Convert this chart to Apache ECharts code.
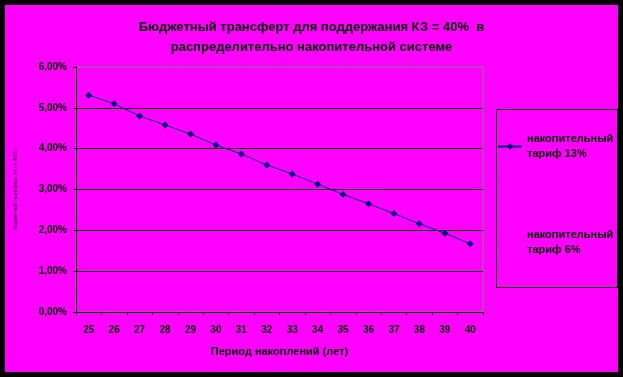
<!DOCTYPE html>
<html>
<head>
<meta charset="utf-8">
<script src="https://cdn.jsdelivr.net/npm/echarts@6/dist/echarts.min.js"></script>
<style>
  html, body { margin: 0; padding: 0; background: #000; }
  #chart { position: absolute; left: 5px; top: 5px; width: 613px; height: 367px; }
</style>
</head>
<body>
<div id="chart"></div>
<script>
// period of accumulation, years
const years = ["25", "26", "27", "28", "29", "30", "31", "32", "33", "34", "35", "36", "37", "38", "39", "40"];
// budget transfer, %
const tariff13 = [5.31, 5.1, 4.8, 4.58, 4.36, 4.09, 3.87, 3.6, 3.38, 3.13, 2.88, 2.65, 2.41, 2.16, 1.93, 1.67];
// second series has no visible points in the source chart
const tariff6 = [];

const seriesNames = ["накопительный тариф 13%", "накопительный тариф 6%"];

const font = '"Liberation Sans", Arial, sans-serif';

const myChart = echarts.init(document.getElementById("chart"), null, { renderer: "canvas" });

myChart.setOption({
  animation: false,
  backgroundColor: "#ff00ff",
  textStyle: { fontFamily: font },
  title: {
    text: "Бюджетный трансферт для поддержания КЗ = 40%  в\nраспределительно накопительной системе",
    left: "center",
    top: 12,
    padding: 0,
    textStyle: {
      fontFamily: font,
      fontSize: 13,
      fontWeight: "bold",
      color: "#000",
      lineHeight: 20,
    },
  },
  grid: {
    left: 68,
    top: 62,
    right: 135,
    bottom: 60,
    show: true,
    borderColor: "#808080",
    borderWidth: 1,
    backgroundColor: "transparent",
  },
  legend: {
    orient: "vertical",
    left: 491,
    top: 119,
    padding: [0, 0, 0, 1],
    itemWidth: 24,
    itemHeight: 8,
    itemGap: 51,
    formatter: (name) => name.replace(" тариф", "\nтариф"),
    textStyle: {
      fontFamily: font,
      fontSize: 11,
      fontWeight: "bold",
      color: "#000",
      lineHeight: 15,
      padding: [15, 0, 0, 0],
    },
    data: [
      { name: seriesNames[0] },
      { name: seriesNames[1], itemStyle: { opacity: 0 }, lineStyle: { opacity: 0 } },
    ],
  },
  graphic: [
    {
      type: "rect",
      left: 491,
      top: 104,
      shape: { width: 121, height: 178 },
      style: { fill: "transparent", stroke: "#000", lineWidth: 1 },
    },
  ],
  xAxis: {
    type: "category",
    data: years,
    boundaryGap: true,
    z: 3,
    name: "Период накоплений (лет)",
    nameLocation: "middle",
    nameGap: 34,
    nameTextStyle: { fontFamily: font, fontSize: 11, fontWeight: "bold", color: "#000" },
    axisLine: { lineStyle: { color: "#000", width: 1 } },
    axisTick: { show: true, length: 3, lineStyle: { color: "#000" } },
    axisLabel: { fontFamily: font, fontSize: 10, fontWeight: "bold", color: "#000", margin: 13 },
    splitLine: { show: false },
  },
  yAxis: {
    type: "value",
    min: 0,
    max: 6,
    interval: 1,
    z: 3,
    name: "Бюджетный трансферт (% от ФОТ)",
    nameLocation: "middle",
    nameGap: 58,
    nameTextStyle: { fontFamily: font, fontSize: 5, color: "#222" },
    axisLine: { show: true, lineStyle: { color: "#000", width: 1 } },
    axisTick: { show: true, length: 3, lineStyle: { color: "#000" } },
    axisLabel: {
      fontFamily: font,
      fontSize: 10,
      fontWeight: "bold",
      color: "#000",
      margin: 9,
      formatter: (v) => v.toFixed(2).replace(".", ",") + "%",
    },
    splitLine: {
      show: true,
      showMaxLine: false,
      lineStyle: { color: "#000", width: 1 },
    },
  },
  series: [
    {
      name: seriesNames[0],
      type: "line",
      data: tariff13,
      symbol: "diamond",
      symbolSize: 7,
      itemStyle: { color: "#000080" },
      lineStyle: { color: "#000080", width: 1 },
    },
    {
      name: seriesNames[1],
      type: "line",
      data: tariff6,
      symbol: "none",
      itemStyle: { color: "#ff00ff" },
      lineStyle: { color: "#ff00ff", width: 1 },
    },
  ],
});
</script>
</body>
</html>
